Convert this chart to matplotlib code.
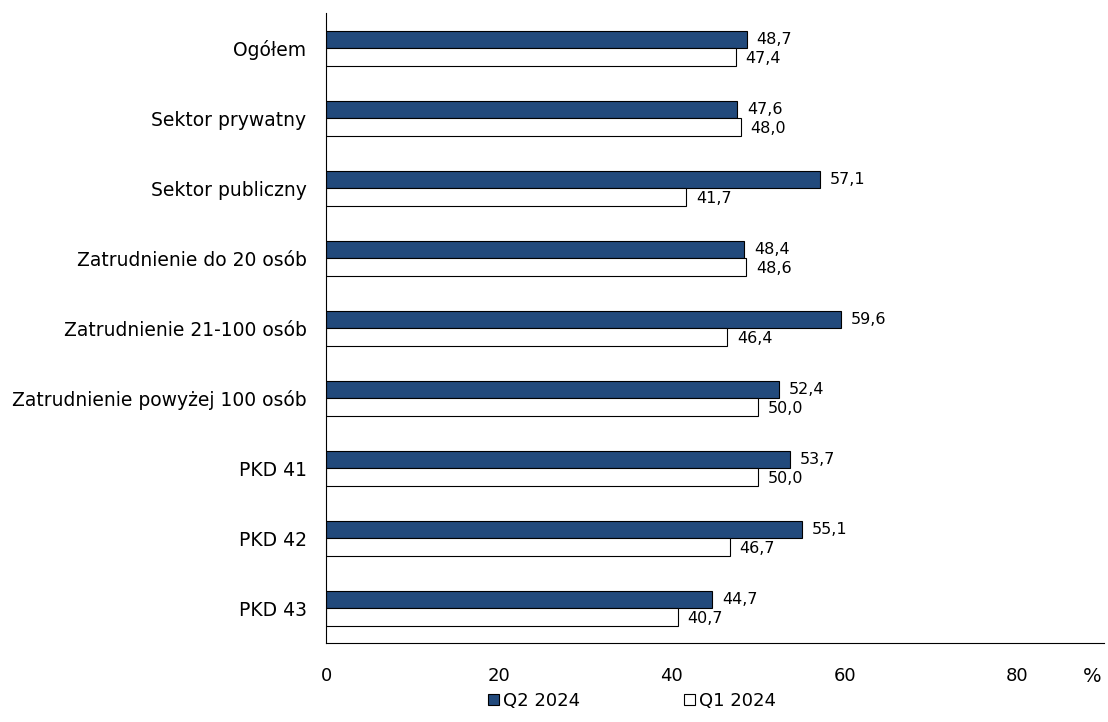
import matplotlib
matplotlib.use("Agg")
import matplotlib.pyplot as plt
import numpy as np
from matplotlib.patches import Patch

categories = ["Ogółem", "Sektor prywatny", "Sektor publiczny", "Zatrudnienie do 20 osób",
              "Zatrudnienie 21-100 osób", "Zatrudnienie powyżej 100 osób",
              "PKD 41", "PKD 42", "PKD 43"]
q2_2024 = [48.7, 47.6, 57.1, 48.4, 59.6, 52.4, 53.7, 55.1, 44.7]
q1_2024 = [47.4, 48.0, 41.7, 48.6, 46.4, 50.0, 50.0, 46.7, 40.7]
series_names = ["Q2 2024", "Q1 2024"]
xticks = [0, 20, 40, 60, 80]

plt.rcParams['font.family'] = ['DejaVu Sans']
fig = plt.figure(figsize=(11.08, 7.22), dpi=100)
ax = fig.add_axes([326/1108, 1-643/722, (1104-326)/1108, (643-13)/722])

n = len(categories)
y = np.arange(n)
h = 0.25
navy = "#224A7C"
ax.barh(y - h/2, q2_2024, height=h, color=navy, edgecolor="black", linewidth=0.8)
ax.barh(y + h/2, q1_2024, height=h, color="white", edgecolor="black", linewidth=0.8)

fmt = lambda v: f"{v:.1f}".replace(".", ",")
for yi, v in zip(y, q2_2024):
    ax.annotate(fmt(v), (v, yi - h/2), xytext=(7, 0), textcoords="offset points",
                va="center", ha="left", fontsize=11.5)
for yi, v in zip(y, q1_2024):
    ax.annotate(fmt(v), (v, yi + h/2), xytext=(7, -1), textcoords="offset points",
                va="center", ha="left", fontsize=11.5)

ax.set_ylim(n - 0.5, -0.5)
ax.set_xlim(0, 90)
ax.set_yticks(y)
ax.set_yticklabels(categories, fontsize=13.5)
ax.set_xticks(xticks)
ax.set_xticklabels([str(t) for t in xticks], fontsize=13)
ax.tick_params(axis='both', length=0)
ax.tick_params(axis='x', pad=17)
ax.tick_params(axis='y', pad=14)
for s in ["top", "right"]:
    ax.spines[s].set_visible(False)
for s in ["left", "bottom"]:
    ax.spines[s].set_color("black")
    ax.spines[s].set_linewidth(0.8)

fig.text(1092/1108, 1-676/722, "%", fontsize=14, ha="center", va="center")

handles = [Patch(facecolor=navy, edgecolor="black", linewidth=0.8),
           Patch(facecolor="white", edgecolor="black", linewidth=0.8)]
fig.legend(handles, series_names, loc="center", bbox_to_anchor=(632/1108, 1-701/722),
           ncol=2, frameon=False, fontsize=13, handlelength=0.6, handleheight=0.6,
           handletextpad=0.2, columnspacing=5.8)

fig.savefig("out.png", dpi=100)
